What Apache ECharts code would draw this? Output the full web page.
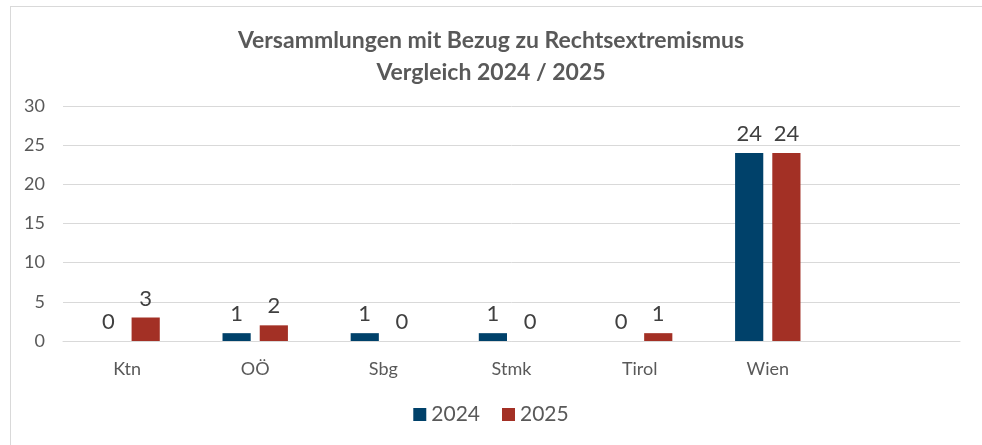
<!DOCTYPE html>
<html>
<head>
<meta charset="utf-8">
<script src="https://cdn.jsdelivr.net/npm/echarts@6/dist/echarts.min.js"></script>
<style>
  html, body { margin: 0; padding: 0; background: #fff; }
  #frame { position: absolute; left: 10px; top: 6px; width: 980px; height: 450px; border: 1px solid #d9d9d9; box-sizing: border-box; }
  #chart { width: 982px; height: 445px; position: absolute; left: 0; top: 0; }
</style>
</head>
<body>
<div id="frame"></div>
<div id="chart"></div>
<script>
// Bundesländer (letzte Kategorie bleibt leer wie im Original)
const laender = ['Ktn', 'OÖ', 'Sbg', 'Stmk', 'Tirol', 'Wien', ''];
const werte2024 = [0, 1, 1, 1, 0, 24, null];
const werte2025 = [3, 2, 0, 0, 1, 24, null];
const yTicks = [0, 5, 10, 15, 20, 25, 30];

const chart = echarts.init(document.getElementById('chart'));

const labelStyle = {
  show: true,
  position: 'top',
  distance: 8,
  color: '#404040',
  fontSize: 22,
  fontFamily: 'Lato'
};

chart.setOption({
  animation: false,
  title: {
    text: 'Versammlungen mit Bezug zu Rechtsextremismus\nVergleich 2024 / 2025',
    left: 'center',
    top: 20,
    textStyle: {
      color: '#595959',
      fontSize: 23,
      fontWeight: 'bold',
      fontFamily: 'Lato',
      lineHeight: 32
    }
  },
  legend: {
    bottom: 15,
    left: 'center',
    itemWidth: 13,
    itemHeight: 13,
    itemGap: 22,
    icon: 'rect',
    textStyle: { color: '#595959', fontSize: 21, fontFamily: 'Lato' },
    data: ['2024', '2025']
  },
  grid: { left: 63, right: 22, top: 106, bottom: 104 },
  xAxis: {
    type: 'category',
    data: laender,
    axisTick: { show: false },
    axisLine: { lineStyle: { color: '#d9d9d9', width: 1 } },
    axisLabel: { color: '#595959', fontSize: 18, fontFamily: 'Lato', margin: 19 }
  },
  yAxis: {
    type: 'value',
    min: yTicks[0],
    max: yTicks[yTicks.length - 1],
    interval: 5,
    axisLine: { show: false },
    axisTick: { show: false },
    splitLine: { lineStyle: { color: '#d9d9d9', width: 1 } },
    axisLabel: { color: '#595959', fontSize: 18, fontFamily: 'Lato', margin: 18 }
  },
  series: [
    {
      name: '2024',
      type: 'bar',
      data: werte2024,
      barWidth: '22%',
      barGap: '32%',
      itemStyle: { color: '#00416a' },
      label: labelStyle
    },
    {
      name: '2025',
      type: 'bar',
      data: werte2025,
      barWidth: '22%',
      itemStyle: { color: '#a33025' },
      label: labelStyle
    }
  ]
});
</script>
</body>
</html>
